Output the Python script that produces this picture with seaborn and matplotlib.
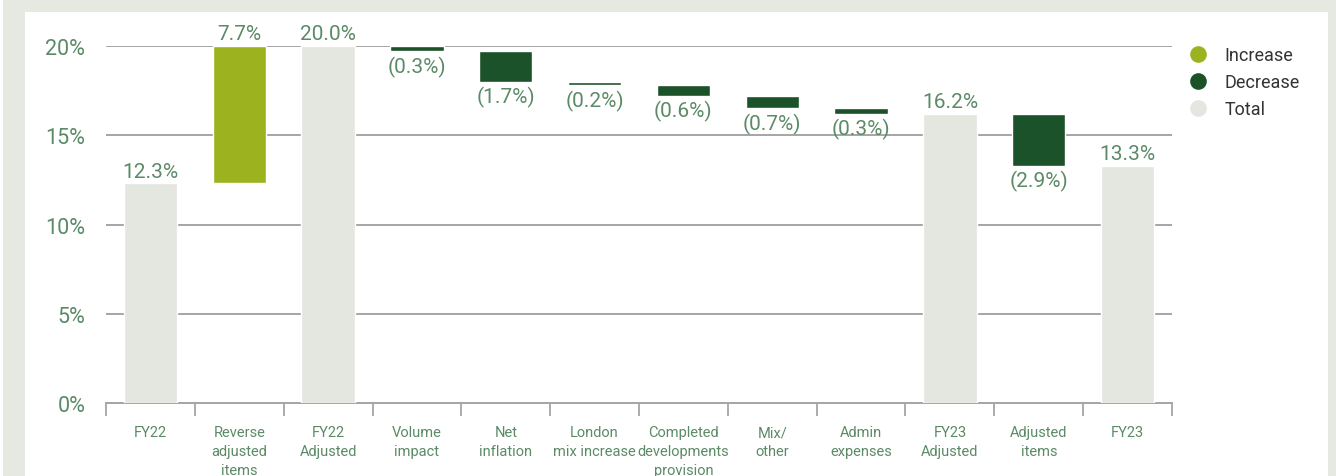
import matplotlib
matplotlib.use("Agg")
import matplotlib.pyplot as plt
from matplotlib.patches import Rectangle
from matplotlib.lines import Line2D
import seaborn as sns
import pandas as pd
import numpy as np

# Operating margin bridge, FY22 -> FY23
categories = ["FY22", "Reverse\nadjusted\nitems", "FY22\nAdjusted", "Volume\nimpact",
              "Net\ninflation", "London\nmix increase", "Completed\ndevelopments\nprovision",
              "Mix/\nother", "Admin\nexpenses", "FY23\nAdjusted", "Adjusted\nitems", "FY23"]
kinds = ["Total", "Increase", "Total", "Decrease", "Decrease", "Decrease", "Decrease",
         "Decrease", "Decrease", "Total", "Decrease", "Total"]
values = [12.3, 7.7, 20.0, -0.3, -1.7, -0.2, -0.6, -0.7, -0.3, 16.2, -2.9, 13.3]
y_ticks = [0, 5, 10, 15, 20]
y_tick_labels = ["0%", "5%", "10%", "15%", "20%"]

palette = {"Increase": "#9cb31f", "Decrease": "#1b5229", "Total": "#e4e6e0"}
label_color = "#5b8a66"
grid_color = "#a5a5a5"

# floating bar extents
bottoms, heights = [], []
level = 0.0
for kind, v in zip(kinds, values):
    if kind == "Total":
        bottoms.append(0.0)
        heights.append(v)
        level = v
    else:
        bottoms.append(min(level, level + v))
        heights.append(abs(v))
        level += v

df = pd.DataFrame({"category": categories, "kind": kinds, "height": heights,
                   "bottom": bottoms, "value": values})

sns.set_theme(style="white")
plt.rcParams["font.family"] = ["Roboto", "DejaVu Sans"]

W, H = 1336, 477
fig = plt.figure(figsize=(W / 100, H / 100), dpi=100)
fig.patch.set_facecolor("#e6e8e2")
fig.patches.append(Rectangle((0, 0), 3 / W, 1, transform=fig.transFigure,
                             facecolor="white", edgecolor="none", zorder=-10))
fig.patches.append(Rectangle((25 / W, 0), (1328 - 25) / W, 1 - 13 / H,
                             transform=fig.transFigure, facecolor="white",
                             edgecolor="none", zorder=-10))

x0, x1 = 106 / W, 1172 / W
y0, y1 = 1 - 404 / H, 1 - 47 / H
ax = fig.add_axes([x0, y0, x1 - x0, y1 - y0])
ax.set_facecolor("none")

sns.barplot(data=df, x="category", y="height", hue="kind", palette=palette,
            order=categories, dodge=False, width=0.6, legend=False, ax=ax,
            saturation=1, zorder=3)

# lift each bar onto its running base
for patch in ax.patches:
    cx = patch.get_x() + patch.get_width() / 2
    i = int(round(cx))
    if 0 <= i < len(categories) and patch.get_height() > 0:
        patch.set_y(df["bottom"][i])

for i, row in df.iterrows():
    if row["kind"] == "Decrease":
        txt = f"({abs(row['value']):.1f}%)"
        ax.annotate(txt, (i, row["bottom"]), xytext=(0, -3), textcoords="offset points",
                    ha="center", va="top", fontsize=15, color=label_color,
                    annotation_clip=False)
    else:
        txt = f"{row['value']:.1f}%"
        ax.annotate(txt, (i, row["bottom"] + row["height"]), xytext=(0, 2),
                    textcoords="offset points", ha="center", va="bottom",
                    fontsize=15, color=label_color, annotation_clip=False)

ax.set_xlim(-0.5, len(categories) - 0.5)
ax.set_ylim(0, 20)
ax.set_yticks(y_ticks)
ax.set_yticklabels(y_tick_labels)
ax.yaxis.grid(True, color=grid_color, linewidth=1.4)
ax.set_axisbelow(True)
ax.tick_params(axis="y", length=0, pad=15, labelsize=15.5, labelcolor=label_color)

ax.set_xticks(range(len(categories)))
ax.set_xticklabels(categories, linespacing=1.45)
ax.set_xticks(np.arange(-0.5, len(categories)), minor=True)
ax.tick_params(axis="x", which="major", length=0, pad=16, labelsize=10.5,
               labelcolor=label_color)
ax.tick_params(axis="x", which="minor", length=9, width=1.3, color=grid_color,
               direction="out", bottom=True)
ax.set_xlabel("")
ax.set_ylabel("")

for side in ["top", "right", "left"]:
    ax.spines[side].set_visible(False)
ax.spines["bottom"].set_color(grid_color)
ax.spines["bottom"].set_linewidth(1.4)

handles = [Line2D([0], [0], marker="o", linestyle="none", markersize=12,
                  markerfacecolor=palette[k], markeredgecolor="none", label=k)
           for k in ["Increase", "Decrease", "Total"]]
leg = fig.legend(handles=handles, loc="upper left", bbox_to_anchor=(1180 / W, 1 - 40 / H),
                 frameon=False, fontsize=13, labelspacing=0.5, handletextpad=0.85,
                 handlelength=1.2, borderaxespad=0)
for t in leg.get_texts():
    t.set_color("#333333")

fig.savefig("out.png", dpi=100, facecolor=fig.get_facecolor())
